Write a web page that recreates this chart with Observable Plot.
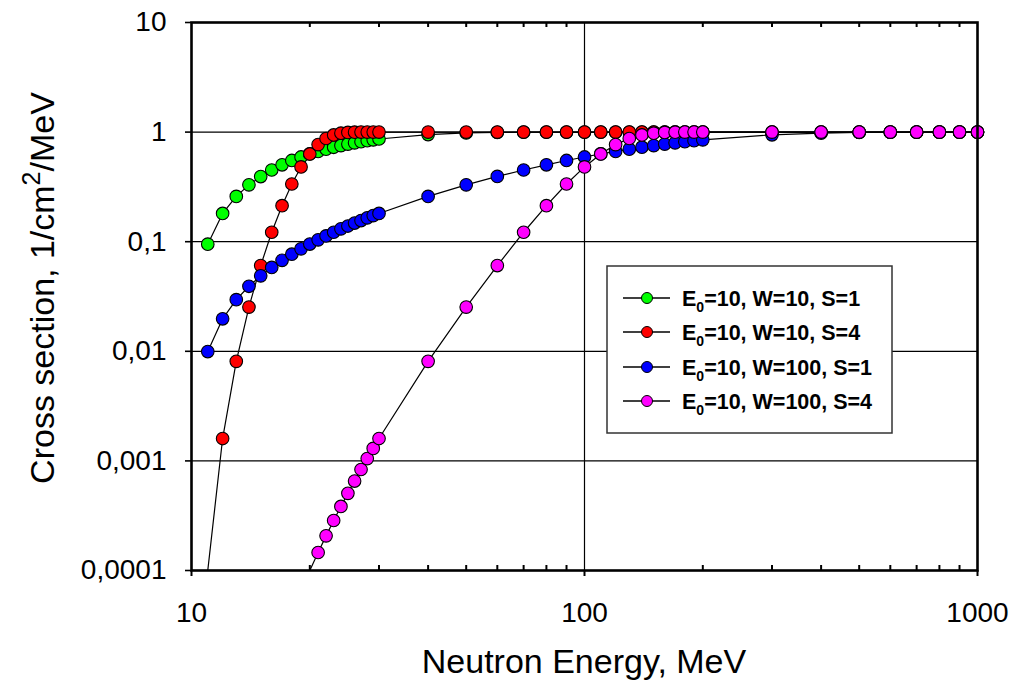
<!DOCTYPE html>
<html><head><meta charset="utf-8">
<script src="https://cdn.jsdelivr.net/npm/d3@7"></script>
<script src="https://cdn.jsdelivr.net/npm/@observablehq/plot@0.6"></script>
<style>body{margin:0;background:#fff} svg{display:block}</style>
</head><body><div id="chart"></div>
<script>
// Neutron energies (MeV) shared by all series
const energies = [11,12,13,14,15,16,17,18,19,20,21,22,23,24,25,26,27,28,29,30,
  40,50,60,70,80,90,100,110,120,130,140,150,160,170,180,190,200,
  300,400,500,600,700,800,900,1000];
// Cross section values (null = not shown)
const seriesGreen = [0.095,0.181,0.259,0.33,0.393,0.451,0.503,0.551,0.593,0.632,0.667,0.699,0.727,0.753,0.777,0.798,0.817,0.835,0.85,0.865,
  0.95,0.982,0.993,0.998,0.999,1,1,1,1,1,1,1,1,1,1,1,1,
  1,1,1,1,1,1,1,1];
const seriesRed = [0.0001,0.0016,0.0081,0.0253,0.0606,0.122,0.213,0.336,0.481,0.632,0.769,0.874,0.942,0.978,0.994,0.999,1,1,1,1,
  1,1,1,1,1,1,1,1,1,1,1,1,1,1,1,1,1,
  1,1,1,1,1,1,1,1];
const seriesBlue = [0.00995,0.0198,0.0296,0.0392,0.0488,0.0582,0.0676,0.0769,0.0861,0.0952,0.104,0.113,0.122,0.131,0.139,0.148,0.156,0.165,0.173,0.181,
  0.259,0.33,0.394,0.451,0.503,0.551,0.593,0.632,0.667,0.699,0.728,0.753,0.777,0.798,0.817,0.835,0.85,
  0.945,0.98,0.993,0.997,0.999,1,1,1];
const seriesPink = [null,null,null,null,null,null,null,null,null,0.0001,0.000146,0.000207,0.000286,0.000384,0.000506,0.000655,0.000835,0.00105,0.0013,0.0016,
  0.0081,0.0253,0.0606,0.122,0.213,0.336,0.481,0.632,0.769,0.874,0.942,0.978,0.994,0.999,1,1,1,
  1,1,1,1,1,1,1,1];
const seriesNames = ["E0=10, W=10, S=1","E0=10, W=10, S=4","E0=10, W=100, S=1","E0=10, W=100, S=4"];
const seriesColors = ["#00ff00","#ff0000","#0000ff","#ff00ff"];
const xTicks = [10,100,1000];
const xTickLabels = ["10","100","1000"];
const xMinor = [20,30,40,50,60,70,80,90,200,300,400,500,600,700,800,900];
const yTicks = [0.0001,0.001,0.01,0.1,1,10];
const yTickLabels = ["0,0001","0,001","0,01","0,1","1","10"];
const yGrid = [0.001,0.01,0.1,1];
const xGrid = [100];
const xTitle = "Neutron Energy, MeV";

const allSeries = [seriesGreen, seriesRed, seriesBlue, seriesPink];
const rows = [];
allSeries.forEach((vals, s) => vals.forEach((v, i) => { if (v != null) rows.push({E: energies[i], v, s}); }));

const W = 1019, H = 683, mL = 191, mR = 42, mT = 22, mB = 113;
const frameH = H - mT - mB;
const font = "'Liberation Sans', Arial, sans-serif";

const marks = [
  Plot.ruleY(yGrid, {stroke: "#000", strokeWidth: 1.2}),
  Plot.ruleX(xGrid, {stroke: "#000", strokeWidth: 1.2}),
  Plot.ruleX(xMinor, {insetTop: frameH - 5, stroke: "#000", strokeWidth: 2}),
  Plot.ruleX(xMinor, {insetBottom: frameH - 5, stroke: "#000", strokeWidth: 2})
];
seriesColors.forEach((c, s) => {
  const d = rows.filter(r => r.s === s);
  marks.push(Plot.line(d, {x: "E", y: "v", stroke: "#000", strokeWidth: 1.2, clip: true}));
});
seriesColors.forEach((c, s) => {
  const d = rows.filter(r => r.s === s && r.v > 0.000102);
  marks.push(Plot.dot(d, {x: "E", y: "v", r: 6.3, fill: c, stroke: "#000", strokeWidth: 1.1}));
});
marks.push(
  Plot.frame({stroke: "#000", strokeWidth: 2.6}),
  Plot.axisY({ticks: yTicks, tickFormat: d => yTickLabels[yTicks.indexOf(d)], tickSize: 6, tickPadding: 19, label: null, strokeWidth: 1.6, fontSize: 28}),
  Plot.axisX({ticks: xTicks, tickFormat: d => xTickLabels[xTicks.indexOf(d)], tickSize: 6, tickPadding: 26, label: null, strokeWidth: 2, fontSize: 28})
);

const svg = Plot.plot({
  width: W, height: H, marginLeft: mL, marginRight: mR, marginTop: mT, marginBottom: mB,
  style: {fontFamily: font, fontSize: "28px", color: "#000", background: "#fff", overflow: "visible"},
  x: {type: "log", domain: [10, 1000]},
  y: {type: "log", domain: [0.0001, 10]},
  marks
});
document.getElementById("chart").appendChild(svg);

const root = d3.select(svg);
// X title
root.append("text").attr("x", (mL + W - mR) / 2).attr("y", 673).attr("text-anchor", "middle")
  .attr("font-family", font).attr("font-size", 34).attr("fill", "#000").text(xTitle);
// Y title with superscript
const yt = root.append("text").attr("transform", "translate(54,288) rotate(-90)").attr("text-anchor", "middle")
  .attr("font-family", font).attr("font-size", 34).attr("fill", "#000");
yt.append("tspan").text("Cross section, 1/cm");
yt.append("tspan").attr("font-size", 25).attr("dy", -14).text("2");
yt.append("tspan").attr("dy", 14).text("/MeV");

// Legend
const lg = root.append("g").attr("text-anchor", "start");
lg.append("rect").attr("x", 607).attr("y", 266).attr("width", 285).attr("height", 167)
  .attr("fill", "#fff").attr("stroke", "#333").attr("stroke-width", 1.5);
const rowY = [298, 332, 367, 401];
seriesNames.forEach((name, i) => {
  const y = rowY[i];
  lg.append("line").attr("x1", 623).attr("x2", 670).attr("y1", y).attr("y2", y).attr("stroke", "#000").attr("stroke-width", 1.3);
  lg.append("circle").attr("cx", 647).attr("cy", y).attr("r", 5.5).attr("fill", seriesColors[i]).attr("stroke", "#000").attr("stroke-width", 1);
  const t = lg.append("text").attr("x", 682).attr("y", y + 7.5).attr("text-anchor", "start")
    .attr("font-family", font).attr("font-size", 21.5).attr("font-weight", "bold").attr("fill", "#000");
  const rest = name.slice(2);
  t.append("tspan").text("E");
  t.append("tspan").attr("font-size", 14).attr("dy", 6).text("0");
  t.append("tspan").attr("dy", -6).text(rest);
});
</script></body></html>
